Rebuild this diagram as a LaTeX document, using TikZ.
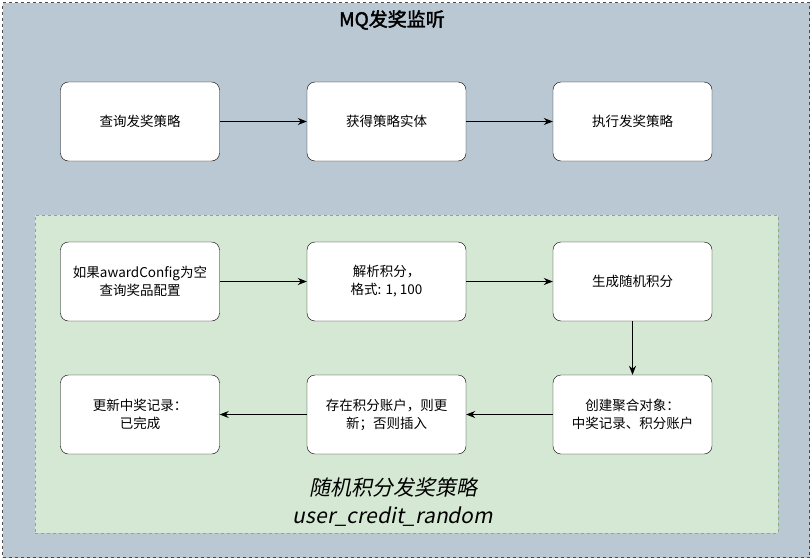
\documentclass[tikz,border=0pt]{standalone}
\usepackage{fontspec}
\setmainfont{Noto Sans CJK SC}[AutoFakeSlant=0.2,AutoFakeBold=2]
\usetikzlibrary{arrows.meta}
\definecolor{outerfill}{HTML}{BAC8D3}
\definecolor{greenfill}{HTML}{D5E8D4}
\definecolor{greenline}{HTML}{82B366}
\begin{document}
\begin{tikzpicture}[x=1pt,y=-1pt,
  box/.style={draw=black,fill=white,rounded corners=8pt,minimum width=159pt,minimum height=79pt,align=center,font=\fontsize{13.5}{18}\selectfont,inner sep=2pt},
  arr/.style={-{Stealth[length=9pt,width=7pt]},line width=0.9pt}]
\useasboundingbox (0,0) rectangle (812,560);
\node[draw=black!70,dashed,fill=outerfill,minimum width=807pt,minimum height=555pt,inner sep=0pt] (outer) at (406,280) {};
\node[font=\bfseries\fontsize{19}{22}\selectfont] (title) at (392,20) {MQ发奖监听};
\node[box] (a1) at (140,121.5) {查询发奖策略};
\node[box] (a2) at (386.5,121.5) {获得策略实体};
\node[box] (a3) at (632.5,121.5) {执行发奖策略};
\node[draw=greenline,dashed,fill=greenfill,minimum width=743pt,minimum height=318pt,inner sep=0pt] (green) at (406.5,374) {};
\node[box] (b1) at (140,281.5) {如果awardConfig为空\\查询奖品配置};
\node[box] (b2) at (386.5,281.5) {解析积分，\\格式: 1, 100};
\node[box] (b3) at (632.5,281.5) {生成随机积分};
\node[box] (c3) at (632.5,414.5) {创建聚合对象：\\中奖记录、积分账户};
\node[box] (c2) at (386.5,414.5) {存在积分账户，则更\\新；否则插入};
\node[box] (c1) at (140,414.5) {更新中奖记录：\\已完成};
\node[font=\itshape\fontsize{21}{28}\selectfont,align=center] (lbl) at (393,502) {随机积分发奖策略\\user\_credit\_random};
\draw[arr] (a1) -- (a2);
\draw[arr] (a2) -- (a3);
\draw[arr] (b1) -- (b2);
\draw[arr] (b2) -- (b3);
\draw[arr] (b3) -- (c3);
\draw[arr] (c3) -- (c2);
\draw[arr] (c2) -- (c1);
\end{tikzpicture}
\end{document}
